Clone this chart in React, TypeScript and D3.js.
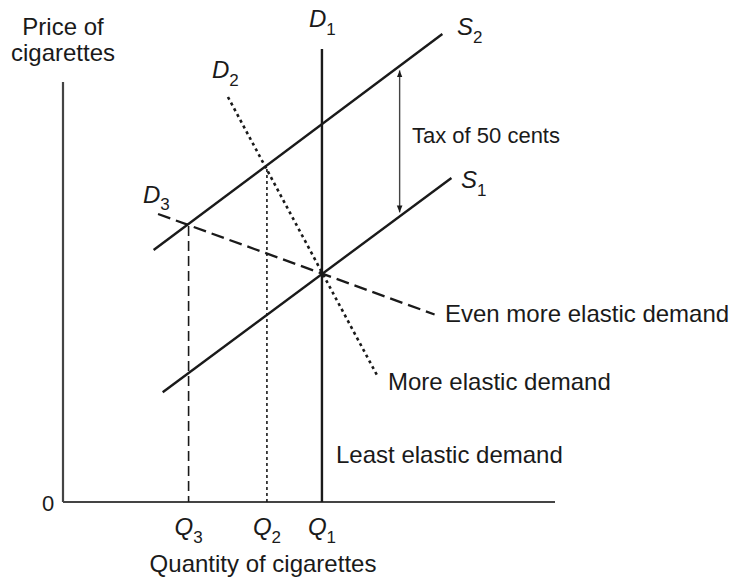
import * as d3 from "d3";
import React from "react";

// 数量(横軸)と価格(縦軸、セント)の値
const quantityDomain = [0, 38];
const priceDomain = [0, 140];

const supplyBefore = [{ q: 7.7, p: 36.6 }, { q: 30, p: 108 }];
const supplyAfter = [{ q: 7, p: 84 }, { q: 29.3, p: 156 }];
const demandLeast = [{ q: 20, p: 0 }, { q: 20, p: 151 }];
const demandMore = [{ q: 12.74, p: 135 }, { q: 24.25, p: 42.3 }];
const demandEvenMore = [{ q: 7.34, p: 96 }, { q: 28.7, p: 62.5 }];

const equilibriumQ = [9.7, 15.75, 20];
const equilibriumP = [92, 111, 76];
const quantityLabels = ["3", "2", "1"];
const taxQuantity = 26;
const taxCents = 50;

const FONT = "'Liberation Sans', Arial, Helvetica, sans-serif";
const INK = "#1a1a1a";

export default function App() {
  const width = 729, height = 580;

  const x = d3.scaleLinear().domain(quantityDomain).range([63, 555]);
  const y = d3.scaleLinear().domain(priceDomain).range([502, 82]);

  const line = d3.line<{ q: number; p: number }>()
    .x((d) => x(d.q))
    .y((d) => y(d.p));

  // 税の矢印: S1 と S2 の間
  const s1At = (q: number) => {
    const [a, b] = supplyBefore;
    return a.p + (b.p - a.p) * (q - a.q) / (b.q - a.q);
  };
  const taxLow = s1At(taxQuantity);
  const taxHigh = taxLow + taxCents;

  const sub = (main: string, s: string, px: number, py: number, dy = 8) => (
    <text x={px} y={py} fontFamily={FONT} fontSize={24} fill={INK}>
      <tspan fontStyle="italic">{main}</tspan>
      <tspan dy={dy} fontSize={17}>{s}</tspan>
    </text>
  );

  return (
    <svg width={width} height={height} style={{ position: "absolute", left: 0, top: 0, background: "#fff" }}>
      <defs>
        <marker id="arr" viewBox="0 0 10 10" refX="10" refY="5" markerWidth="7" markerHeight="9" orient="auto-start-reverse" markerUnits="userSpaceOnUse">
          <path d="M0,1 L10,5 L0,9 z" fill={INK} />
        </marker>
      </defs>

      {/* axes */}
      <line x1={x(0)} x2={x(0)} y1={y(priceDomain[1])} y2={y(0)} stroke="#444" strokeWidth={2.2} />
      <line x1={x(0)} x2={x(quantityDomain[1])} y1={y(0)} y2={y(0)} stroke="#444" strokeWidth={2.2} />

      {/* vertical guides to Q3, Q2 */}
      <line x1={x(equilibriumQ[0])} x2={x(equilibriumQ[0])} y1={y(equilibriumP[0])} y2={y(0)}
        stroke={INK} strokeWidth={1.6} strokeDasharray="10,5" />
      <line x1={x(equilibriumQ[1])} x2={x(equilibriumQ[1])} y1={y(equilibriumP[1])} y2={y(0)}
        stroke={INK} strokeWidth={1.6} strokeDasharray="3,3" />

      {/* curves */}
      <path d={line(supplyBefore) || ""} stroke={INK} strokeWidth={2.4} fill="none" />
      <path d={line(supplyAfter) || ""} stroke={INK} strokeWidth={2.4} fill="none" />
      <path d={line(demandLeast) || ""} stroke={INK} strokeWidth={2.4} fill="none" />
      <path d={line(demandMore) || ""} stroke={INK} strokeWidth={2.6} fill="none" strokeDasharray="3,3.5" />
      <path d={line(demandEvenMore) || ""} stroke={INK} strokeWidth={2.3} fill="none" strokeDasharray="13,6" />

      {/* tax arrow */}
      <line x1={x(taxQuantity)} x2={x(taxQuantity)} y1={y(taxHigh) + 4} y2={y(taxLow) - 4}
        stroke="#444" strokeWidth={1.4} markerStart="url(#arr)" markerEnd="url(#arr)" />
      <text x={412} y={143} fontFamily={FONT} fontSize={22} fill={INK}>Tax of 50 cents</text>

      {/* curve labels */}
      {sub("D", "1", 309, 27)}
      {sub("S", "2", 457, 35)}
      {sub("D", "2", 212, 78)}
      {sub("S", "1", 461, 188)}
      {sub("D", "3", 143, 203, 7)}

      <text x={445} y={322} fontFamily={FONT} fontSize={24} fill={INK}>Even more elastic demand</text>
      <text x={388} y={390} fontFamily={FONT} fontSize={24} fill={INK}>More elastic demand</text>
      <text x={336} y={463} fontFamily={FONT} fontSize={24} fill={INK}>Least elastic demand</text>

      {/* axis labels */}
      <text x={63} y={35} textAnchor="middle" fontFamily={FONT} fontSize={24} fill={INK}>Price of</text>
      <text x={63} y={61} textAnchor="middle" fontFamily={FONT} fontSize={24} fill={INK}>cigarettes</text>
      <text x={48} y={511} textAnchor="middle" fontFamily={FONT} fontSize={22} fill={INK}>0</text>
      <text x={263} y={572} textAnchor="middle" fontFamily={FONT} fontSize={24} fill={INK}>Quantity of cigarettes</text>

      {equilibriumQ.map((q, i) => (
        <g key={i}>{sub("Q", quantityLabels[i], x(q) - 14, 535)}</g>
      ))}
    </svg>
  );
}
